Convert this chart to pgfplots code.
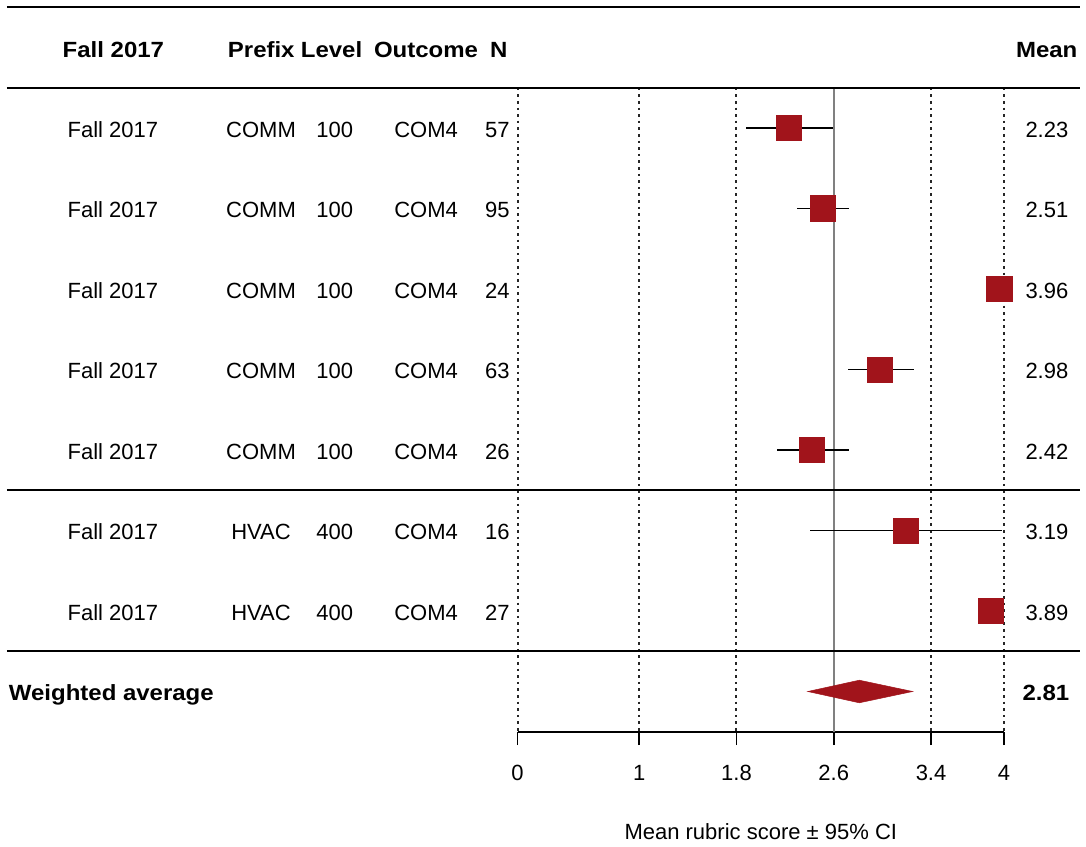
\documentclass[border=0pt]{standalone}
\usepackage{fontspec}
\setmainfont{Liberation Sans}
\newfontfamily\hdrfont{Liberation Sans}[FakeStretch=1.09]
\usepackage{pgfplots}
\pgfplotsset{compat=1.18}
\usepackage{pgfplotstable}
\definecolor{fcred}{RGB}{161,20,27}
\definecolor{refgray}{RGB}{128,128,128}
\newcommand{\fs}{\fontsize{22}{26}\selectfont}
\newcommand{\fb}{\fontsize{22}{26}\selectfont\hdrfont\bfseries}

% study rows: y = -row, mean, CI half-widths (plus / minus)
\pgfplotstableread{
y mean ep em
-1 2.23 0.361 0.354
-2 2.51 0.215 0.215
-3 3.96 0 0
-4 2.98 0.277 0.260
-5 2.42 0.303 0.289
-6 3.19 0.791 0.785
-7 3.89 0 0
}\studies

% row text: k, term, prefix, level, outcome, N, mean
\newcommand{\studyrow}[7]{%
  \node[anchor=base, yshift=-9.3pt] at (axis cs:-3.328,-#1) {#2};
  \node[anchor=base, yshift=-9.3pt] at (axis cs:-2.110,-#1) {#3};
  \node[anchor=base, yshift=-9.3pt] at (axis cs:-1.503,-#1) {#4};
  \node[anchor=base, yshift=-9.3pt] at (axis cs:-0.753,-#1) {#5};
  \node[anchor=base east, yshift=-9.3pt] at (axis cs:-0.065,-#1) {#6};
  \node[anchor=base east, yshift=-9.3pt] at (axis cs:4.529,-#1) {#7};
}

\tikzset{every node/.append style={font=\fs, inner sep=0pt, outer sep=0pt}}

\begin{document}
\begin{tikzpicture}
\path[use as bounding box] (0,0) rectangle (1086pt,846pt);
\begin{axis}[
  at={(517.6pt,114.25pt)}, anchor=south west,
  scale only axis, width=486.4pt, height=644pt,
  xmin=0, xmax=4, ymin=-8.5, ymax=-0.5, enlargelimits=false,
  clip=false,
  axis x line=bottom, axis y line=none,
  axis line style={-, line width=1.5pt},
  xtick={0,1,1.8,2.6,3.4,4},
  tick align=outside, major tick length=13.3pt,
  tick style={line width=1.5pt, black},
  xticklabel style={font=\fs, anchor=base, inner sep=0pt, yshift=-35.3pt},
  /pgf/number format/assume math mode=true,
  xlabel={Mean rubric score ± 95\% CI},
  xlabel style={font=\fs, at={(axis description cs:0.5,0)}, anchor=base, inner sep=0pt, yshift=-107.3pt},
  dotline/.style={black!85, line width=2pt, dash pattern=on 2.6pt off 4pt},
]
% reference lines
\addplot[dotline] coordinates {(0,-0.5) (0,-8.5)};
\addplot[dotline] coordinates {(1,-0.5) (1,-8.5)};
\addplot[dotline] coordinates {(1.8,-0.5) (1.8,-8.5)};
\addplot[dotline] coordinates {(3.4,-0.5) (3.4,-8.5)};
\addplot[dotline] coordinates {(4,-0.5) (4,-8.5)};
\addplot[refgray, line width=1.5pt] coordinates {(2.6,-0.5) (2.6,-8.5)};

% confidence intervals
\addplot[draw=none, mark=none, error bars/.cd, x dir=both, x explicit,
  error mark=none, error bar style={black, line width=1.7pt}]
  table[x=mean, y=y, x error plus=ep, x error minus=em] {\studies};
% means
\addplot[only marks, mark=square*, mark size=12.7pt,
  mark options={fill=fcred, draw=fcred, line width=0.6pt}]
  table[x=mean, y=y] {\studies};
% weighted average diamond
\addplot[fill=fcred, draw=fcred, line width=0.5pt] coordinates
  {(2.386,-8) (2.81,-7.8596) (3.249,-8) (2.81,-8.1404)} -- cycle;

% horizontal rules
\draw[line width=1.8pt] (axis cs:-4.199,0.5) -- (axis cs:4.625,0.5);
\draw[line width=1.8pt] (axis cs:-4.199,-0.5) -- (axis cs:4.625,-0.5);
\draw[line width=1.8pt] (axis cs:-4.199,-5.5) -- (axis cs:4.625,-5.5);
\draw[line width=1.8pt] (axis cs:-4.199,-7.5) -- (axis cs:4.625,-7.5);

% header
\node[anchor=base, yshift=-9.8pt, font=\fb] at (axis cs:-3.324,0) {Fall 2017};
\node[anchor=base, yshift=-9.8pt, font=\fb] at (axis cs:-2.108,0) {Prefix};
\node[anchor=base, yshift=-9.8pt, font=\fb] at (axis cs:-1.530,0) {Level};
\node[anchor=base, yshift=-9.8pt, font=\fb] at (axis cs:-0.753,0) {Outcome};
\node[anchor=base, yshift=-9.8pt, font=\fb] at (axis cs:-0.155,0) {N};
\node[anchor=base east, yshift=-9.8pt, font=\fb] at (axis cs:4.603,0) {Mean};

% study rows
\studyrow{1}{Fall 2017}{COMM}{100}{COM4}{57}{2.23}
\studyrow{2}{Fall 2017}{COMM}{100}{COM4}{95}{2.51}
\studyrow{3}{Fall 2017}{COMM}{100}{COM4}{24}{3.96}
\studyrow{4}{Fall 2017}{COMM}{100}{COM4}{63}{2.98}
\studyrow{5}{Fall 2017}{COMM}{100}{COM4}{26}{2.42}
\studyrow{6}{Fall 2017}{HVAC}{400}{COM4}{16}{3.19}
\studyrow{7}{Fall 2017}{HVAC}{400}{COM4}{27}{3.89}

% weighted average row
\node[anchor=base west, yshift=-8.8pt, font=\fb] at (axis cs:-4.183,-8) {Weighted average};
\node[anchor=base east, yshift=-8.8pt, font=\fb] at (axis cs:4.537,-8) {2.81};
\end{axis}
\end{tikzpicture}
\end{document}
